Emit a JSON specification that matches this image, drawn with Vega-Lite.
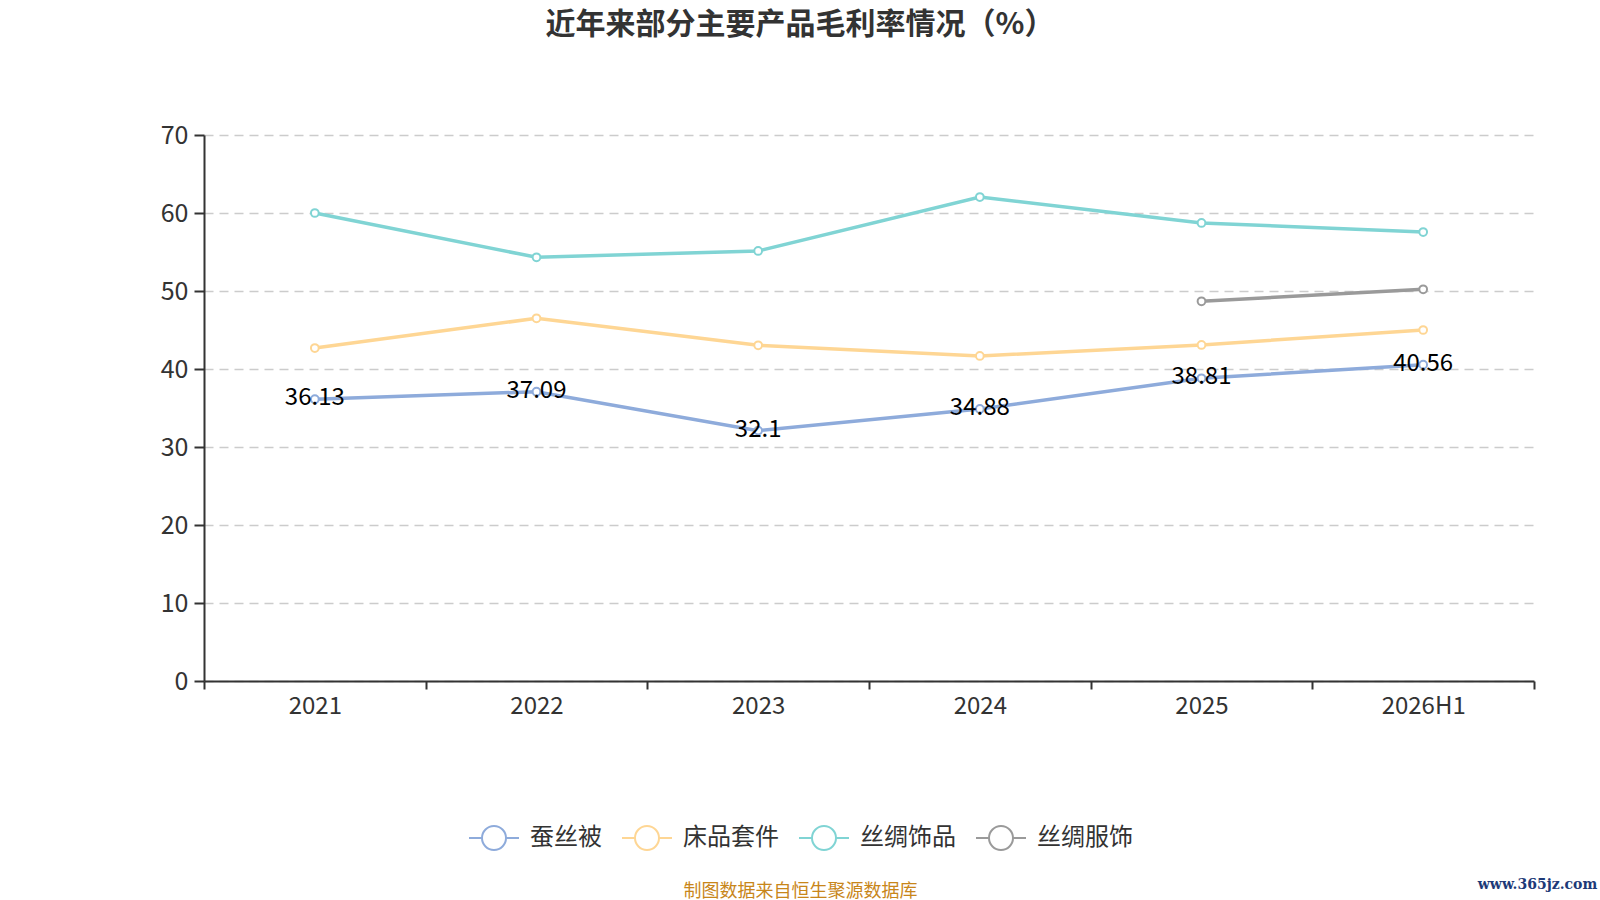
{
  "$schema": "https://vega.github.io/schema/vega-lite/v6.json",
  "width": 1330,
  "height": 546,
  "autosize": {"type": "none"},
  "padding": {"left": 204, "top": 135, "right": 66, "bottom": 219},
  "background": "white",
  "title": {
    "text": "近年来部分主要产品毛利率情况（%）",
    "font": "Noto Sans CJK SC",
    "fontSize": 30,
    "fontWeight": "bold",
    "color": "#333333",
    "anchor": "middle",
    "frame": "group",
    "dx": -69,
    "offset": 83
  },
  "config": {
    "view": {"stroke": null},
    "font": "Noto Sans CJK SC"
  },
  "data": {
    "values": [
      {"year": "2021", "series": "蚕丝被", "value": 36.13},
      {"year": "2022", "series": "蚕丝被", "value": 37.09},
      {"year": "2023", "series": "蚕丝被", "value": 32.1},
      {"year": "2024", "series": "蚕丝被", "value": 34.88},
      {"year": "2025", "series": "蚕丝被", "value": 38.81},
      {"year": "2026H1", "series": "蚕丝被", "value": 40.56},
      {"year": "2021", "series": "床品套件", "value": 42.69},
      {"year": "2022", "series": "床品套件", "value": 46.5},
      {"year": "2023", "series": "床品套件", "value": 43.04},
      {"year": "2024", "series": "床品套件", "value": 41.67},
      {"year": "2025", "series": "床品套件", "value": 43.08},
      {"year": "2026H1", "series": "床品套件", "value": 45.0},
      {"year": "2021", "series": "丝绸饰品", "value": 60.0},
      {"year": "2022", "series": "丝绸饰品", "value": 54.32},
      {"year": "2023", "series": "丝绸饰品", "value": 55.13},
      {"year": "2024", "series": "丝绸饰品", "value": 62.05},
      {"year": "2025", "series": "丝绸饰品", "value": 58.72},
      {"year": "2026H1", "series": "丝绸饰品", "value": 57.56},
      {"year": "2025", "series": "丝绸服饰", "value": 48.68},
      {"year": "2026H1", "series": "丝绸服饰", "value": 50.22}
    ]
  },
  "encoding": {
    "x": {
      "field": "year",
      "type": "ordinal",
      "sort": ["2021", "2022", "2023", "2024", "2025", "2026H1"],
      "bandPosition": 0.5,
      "scale": {"type": "band", "paddingInner": 0, "paddingOuter": 0},
      "axis": {
        "title": "制图数据来自恒生聚源数据库",
        "titleColor": "#c8861a",
        "titleFont": "Noto Sans CJK SC",
        "titleFontSize": 18,
        "titleFontWeight": "normal",
        "titleX": 596,
        "titleY": 210,
        "titleAlign": "center",
        "titleBaseline": "middle",
        "titleAnchor": null,
        "labelAngle": 0,
        "labelFontSize": 24,
        "labelColor": "#333333",
        "labelPadding": 5,
        "tickBand": "extent",
        "tickSize": 8,
        "tickColor": "#333333",
        "tickWidth": 2,
        "domainColor": "#333333",
        "domainWidth": 2,
        "grid": false
      }
    },
    "y": {
      "field": "value",
      "type": "quantitative",
      "scale": {"domain": [0, 70], "nice": false, "zero": true},
      "axis": {
        "title": "www.365jz.com",
        "titleAngle": 0,
        "titleX": 1333,
        "titleY": 749,
        "titleAlign": "center",
        "titleBaseline": "middle",
        "titleFont": "DejaVu Serif",
        "titleFontSize": 14,
        "titleFontWeight": "bold",
        "titleColor": "#1e3a78",
        "values": [0, 10, 20, 30, 40, 50, 60, 70],
        "labelFontSize": 25,
        "labelColor": "#333333",
        "labelPadding": 6,
        "tickSize": 10,
        "tickColor": "#333333",
        "tickWidth": 2,
        "domainColor": "#333333",
        "domainWidth": 2,
        "grid": true,
        "gridColor": "#cccccc",
        "gridDash": [9, 6],
        "gridWidth": 1.5
      }
    }
  },
  "layer": [
    {
      "mark": {"type": "line", "strokeWidth": 3.5},
      "encoding": {
        "color": {
          "field": "series",
          "type": "nominal",
          "scale": {
            "domain": ["蚕丝被", "床品套件", "丝绸饰品", "丝绸服饰"],
            "range": ["#8eabdb", "#fed694", "#80d4d4", "#9a9a9a"]
          },
          "legend": {
            "title": null,
            "orient": "none",
            "direction": "horizontal",
            "legendX": 264,
            "legendY": 677,
            "padding": 0,
            "symbolType": "M-1,0L-0.48,0M0.48,0L1,0M-0.48,0A0.48,0.48,0,1,1,0.48,0A0.48,0.48,0,1,1,-0.48,0",
            "symbolSize": 2500,
            "symbolStrokeWidth": 2,
            "symbolFillColor": "white",
            "labelFontSize": 24,
            "labelFont": "Noto Sans CJK SC",
            "labelColor": "#333333",
            "labelOffset": 10,
            "columnPadding": 16
          }
        }
      }
    },
    {
      "mark": {"type": "point", "shape": "circle", "filled": false, "fill": "white", "fillOpacity": 1, "size": 60, "strokeWidth": 2, "opacity": 1},
      "encoding": {
        "color": {"field": "series", "type": "nominal"}
      }
    },
    {
      "transform": [{"filter": "datum.series === '蚕丝被'"}],
      "mark": {"type": "text", "fontSize": 24, "color": "#000000", "baseline": "middle", "dy": -1, "font": "Noto Sans CJK SC"},
      "encoding": {
        "text": {"field": "value", "type": "quantitative"}
      }
    }
  ]
}
